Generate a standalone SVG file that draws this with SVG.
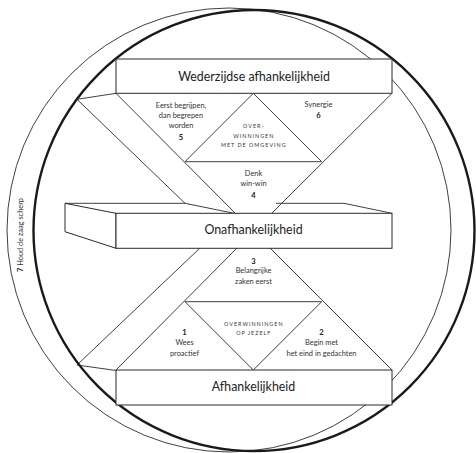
<svg xmlns="http://www.w3.org/2000/svg" width="476" height="453" viewBox="0 0 476 453">
<style>
.ln{fill:none;stroke:#2a2a2a;stroke-width:0.9}
.bx{fill:#fff;stroke:#2a2a2a;stroke-width:1}
.big{font-family:Lato,"Open Sans",sans-serif;font-size:12.4px;fill:#222;text-anchor:middle}
.sm{font-family:Lato,"Open Sans",sans-serif;font-size:7.4px;fill:#333;text-anchor:middle}
.num{font-family:Lato,"Open Sans",sans-serif;font-size:7.6px;font-weight:bold;fill:#222;text-anchor:middle}
.cap{font-family:Lato,"Open Sans",sans-serif;font-size:5.4px;letter-spacing:1px;fill:#333;text-anchor:middle}
</style>
<rect width="476" height="453" fill="#fff"/>
<g id="circles">
<circle cx="229" cy="230" r="222" fill="none" stroke="#2a2a2a" stroke-width="0.9"/>
<circle cx="254" cy="230.5" r="220.5" fill="none" stroke="#1a1a1a" stroke-width="2.4"/>
</g>
<g id="connectors">
<path class="ln" d="M116,93.3 L235,213 M392,93.3 L272,213"/>
<path class="ln" d="M253.3,93.3 L185,161.7 L321.7,161.7 Z"/>
<path class="ln" d="M77,99.3 L116,93.3 M77,99.3 L185,203.3"/>
<path class="ln" d="M116,370 L237,248 M392,370 L270,248"/>
<path class="ln" d="M253.3,370 L185,301.7 L321.7,301.7 Z"/>
<path class="ln" d="M77,365 L116,370.5 M77,365 L200,248"/>
</g>
<g id="wederzijdse">
<rect class="bx" x="116" y="59" width="276" height="34.3"/>
<text class="big" x="254" y="80.5">Wederzijdse afhankelijkheid</text>
</g>
<g id="onafhankelijkheid">
<polygon class="bx" points="65,203.3 116,213.3 116,248.3 65,231.7"/>
<path class="ln" d="M65,203.3 L185,203.3 L234,213.3 M276,203.3 L344,203.3 L392,213.3"/>
<rect class="bx" x="116" y="213.3" width="276" height="35"/>
<text class="big" x="253.5" y="234">Onafhankelijkheid</text>
</g>
<g id="afhankelijkheid">
<rect class="bx" x="116" y="370" width="276" height="35"/>
<text class="big" x="253.5" y="391">Afhankelijkheid</text>
</g>
<g id="habit5">
<text class="sm" x="181" y="108">Eerst begrijpen,</text>
<text class="sm" x="181" y="118">dan begrepen</text>
<text class="sm" x="181" y="128">worden</text>
<text class="num" x="181" y="140">5</text>
</g>
<g id="habit6">
<text class="sm" x="318.5" y="107">Synergie</text>
<text class="num" x="318.5" y="118">6</text>
</g>
<g id="overwinningen-omgeving">
<text class="cap" x="253.8" y="127.5">OVER-</text>
<text class="cap" x="253.8" y="137.5">WINNINGEN</text>
<text class="cap" x="253.8" y="147">MET DE OMGEVING</text>
</g>
<g id="habit4">
<text class="sm" x="253.5" y="176">Denk</text>
<text class="sm" x="253.5" y="186">win-win</text>
<text class="num" x="253.5" y="197.5">4</text>
</g>
<g id="habit3">
<text class="num" x="253.5" y="263.5">3</text>
<text class="sm" x="253.5" y="273">Belangrijke</text>
<text class="sm" x="253.5" y="283.5">zaken eerst</text>
</g>
<g id="overwinningen-jezelf">
<text class="cap" x="253.8" y="326">OVERWINNINGEN</text>
<text class="cap" x="253.8" y="335">OP JEZELF</text>
</g>
<g id="habit1">
<text class="num" x="184.5" y="334.5">1</text>
<text class="sm" x="184.5" y="345">Wees</text>
<text class="sm" x="184.5" y="355.7">proactief</text>
</g>
<g id="habit2">
<text class="num" x="321.5" y="334.5">2</text>
<text class="sm" x="321.5" y="345">Begin met</text>
<text class="sm" x="321.5" y="355.7">het eind in gedachten</text>
</g>
<g id="habit7">
<text class="sm" transform="translate(23,235) rotate(-90)"><tspan font-weight="bold">7</tspan> Houd de zaag scherp</text>
</g>
</svg>
